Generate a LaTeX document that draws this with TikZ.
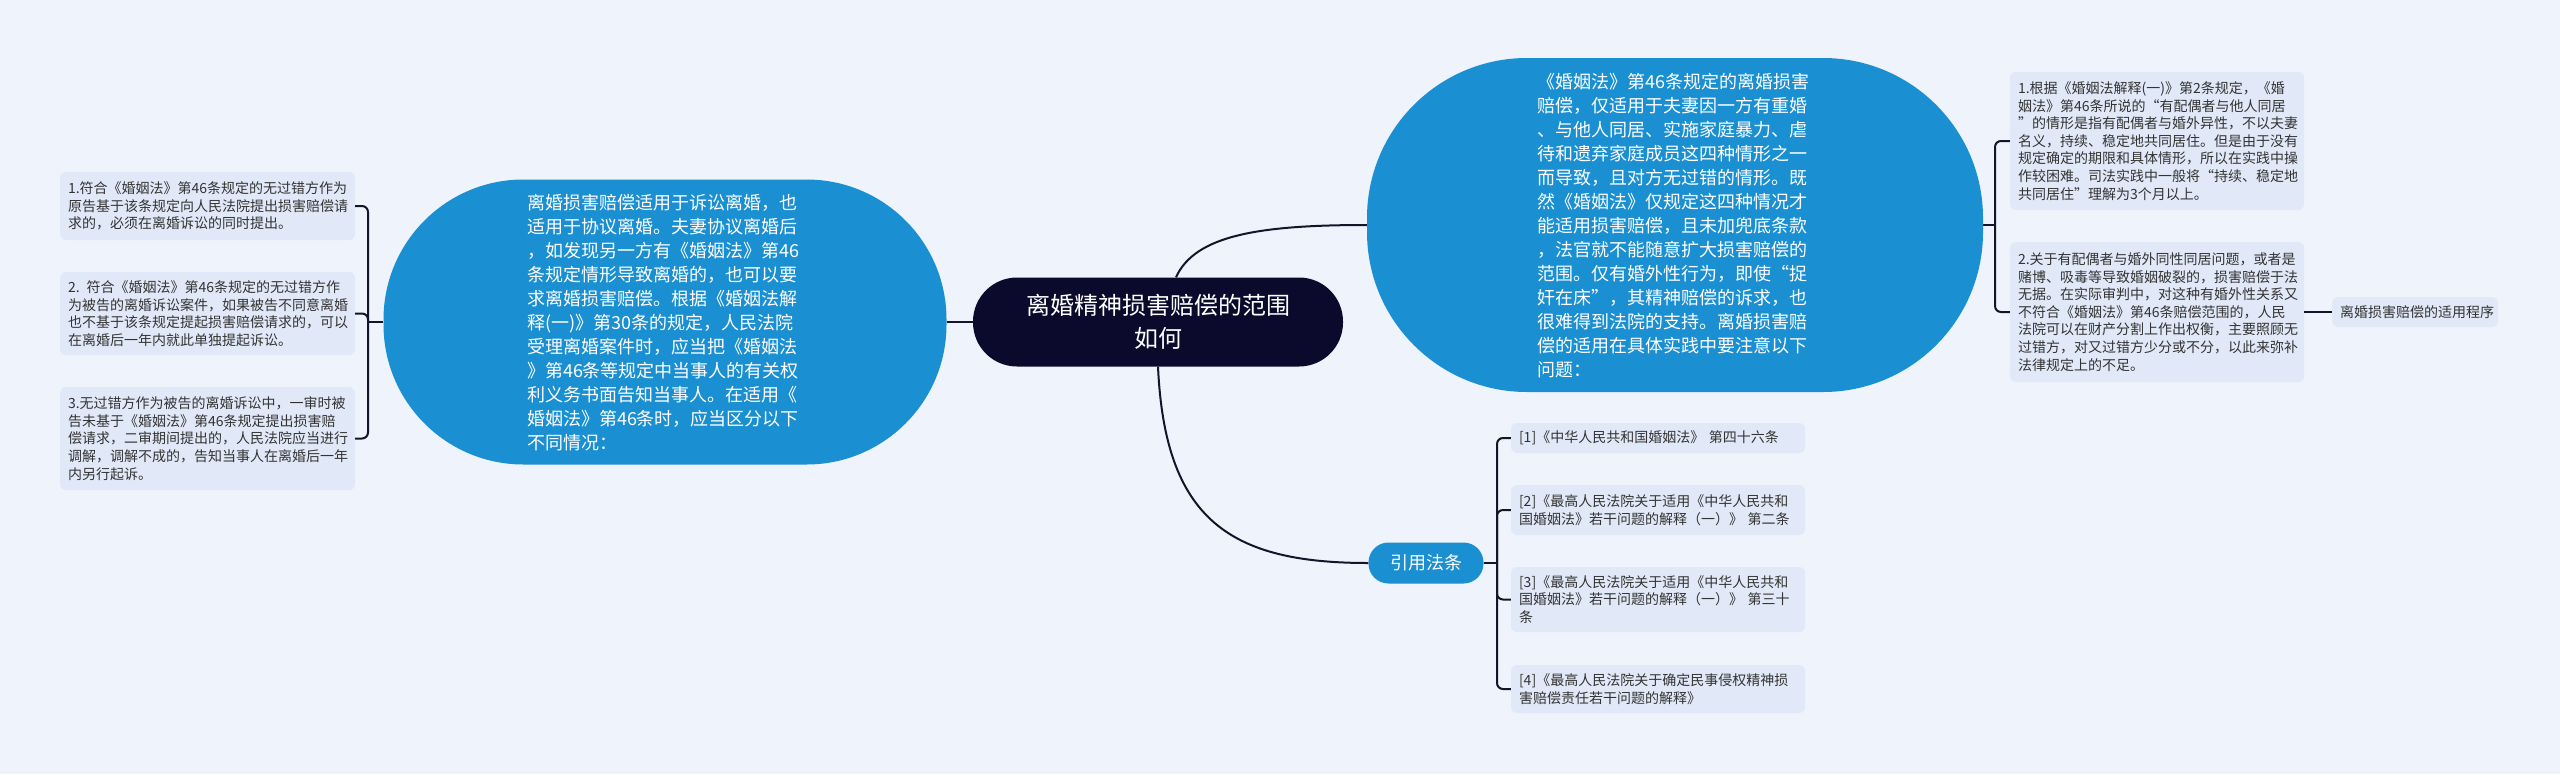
\documentclass[tikz,border=0pt]{standalone}
\usepackage{fontspec}
\setmainfont{Noto Sans CJK SC}
\definecolor{bgc}{HTML}{EEF3FC}
\definecolor{leafc}{HTML}{E1E9F8}
\definecolor{bluec}{HTML}{1A8FD1}
\definecolor{darkc}{HTML}{0B0A2C}
\definecolor{linec}{HTML}{15152A}
\definecolor{textc}{HTML}{333333}
\begin{document}
\begin{tikzpicture}[x=1pt,y=-1pt,
  conn/.style={draw=linec, line width=2pt},
  leaf/.style={fill=leafc, rounded corners=6pt, text=textc, align=left,
    inner xsep=8pt, inner ysep=0pt, font=\fontsize{14}{17.6}\selectfont},
  bigblob/.style={fill=bluec, text=white, align=left, inner sep=0pt,
    font=\fontsize{18}{24}\selectfont},
  rootbox/.style={fill=darkc, text=white, align=center, inner sep=0pt,
    rounded corners=44pt, minimum width=370pt, minimum height=89pt,
    font=\fontsize{24}{33}\selectfont},
  citebox/.style={fill=bluec, text=white, inner sep=0pt, rounded corners=20pt,
    minimum width=115pt, minimum height=41pt, font=\fontsize{18}{22}\selectfont}
]
\useasboundingbox (0,0) rectangle (2560,774);
\fill[bgc] (0,0) rectangle (2560,774);

% root
\node[rootbox] (C) at (1158,322) {离婚精神损害赔偿的范围\\如何};

% left blob
\node[bigblob, rounded corners=140pt, minimum width=563pt, minimum height=285pt] (L) at (665,322) {};
\node[bigblob, anchor=center] (Lt) at (663,323) {离婚损害赔偿适用于诉讼离婚，也\\
适用于协议离婚。夫妻协议离婚后\\
，如发现另一方有《婚姻法》第46\\
条规定情形导致离婚的，也可以要\\
求离婚损害赔偿。根据《婚姻法解\\
释(一)》第30条的规定，人民法院\\
受理离婚案件时，应当把《婚姻法\\
》第46条等规定中当事人的有关权\\
利义务书面告知当事人。在适用《\\
婚姻法》第46条时，应当区分以下\\
不同情况：};

% right blob
\node[bigblob, rounded corners=160pt, minimum width=616pt, minimum height=334pt] (R) at (1675,225) {};
\node[bigblob, anchor=center] (Rt) at (1673,226) {《婚姻法》第46条规定的离婚损害\\
赔偿，仅适用于夫妻因一方有重婚\\
、与他人同居、实施家庭暴力、虐\\
待和遗弃家庭成员这四种情形之一\\
而导致，且对方无过错的情形。既\\
然《婚姻法》仅规定这四种情况才\\
能适用损害赔偿，且未加兜底条款\\
，法官就不能随意扩大损害赔偿的\\
范围。仅有婚外性行为，即使“捉\\
奸在床”，其精神赔偿的诉求，也\\
很难得到法院的支持。离婚损害赔\\
偿的适用在具体实践中要注意以下\\
问题：};

% cite node
\node[citebox] (Y) at (1426,563) {引用法条};

% left leaves
\node[leaf, text width=279pt, minimum height=68pt] (l1) at (207.5,206) {1.符合《婚姻法》第46条规定的无过错方作为\\原告基于该条规定向人民法院提出损害赔偿请\\求的，必须在离婚诉讼的同时提出。};
\node[leaf, text width=279pt, minimum height=83pt] (l2) at (207.5,313.5) {2. 符合《婚姻法》第46条规定的无过错方作\\为被告的离婚诉讼案件，如果被告不同意离婚\\也不基于该条规定提起损害赔偿请求的，可以\\在离婚后一年内就此单独提起诉讼。};
\node[leaf, text width=279pt, minimum height=103pt] (l3) at (207.5,438.5) {3.无过错方作为被告的离婚诉讼中，一审时被\\告未基于《婚姻法》第46条规定提出损害赔\\偿请求，二审期间提出的，人民法院应当进行\\调解，调解不成的，告知当事人在离婚后一年\\内另行起诉。};

% right leaves
\node[leaf, text width=278pt, minimum height=138pt] (r1) at (2157,141) {1.根据《婚姻法解释(一)》第2条规定，《婚\\姻法》第46条所说的“有配偶者与他人同居\\”的情形是指有配偶者与婚外异性，不以夫妻\\名义，持续、稳定地共同居住。但是由于没有\\规定确定的期限和具体情形，所以在实践中操\\作较困难。司法实践中一般将“持续、稳定地\\共同居住”理解为3个月以上。};
\node[leaf, text width=278pt, minimum height=140pt] (r2) at (2157,312) {2.关于有配偶者与婚外同性同居问题，或者是\\赌博、吸毒等导致婚姻破裂的，损害赔偿于法\\无据。在实际审判中，对这种有婚外性关系又\\不符合《婚姻法》第46条赔偿范围的，人民\\法院可以在财产分割上作出权衡，主要照顾无\\过错方，对又过错方少分或不分，以此来弥补\\法律规定上的不足。};
\node[leaf, text width=150pt, minimum height=30pt] (rr) at (2415,312) {离婚损害赔偿的适用程序};

% cite leaves
\node[leaf, text width=278pt, minimum height=30pt] (c1) at (1658,438) {[1]《中华人民共和国婚姻法》 第四十六条};
\node[leaf, text width=278pt, minimum height=50pt] (c2) at (1658,510) {[2]《最高人民法院关于适用《中华人民共和\\国婚姻法》若干问题的解释（一）》 第二条};
\node[leaf, text width=278pt, minimum height=65pt] (c3) at (1658,599.5) {[3]《最高人民法院关于适用《中华人民共和\\国婚姻法》若干问题的解释（一）》 第三十\\条};
\node[leaf, text width=278pt, minimum height=48pt] (c4) at (1658,689) {[4]《最高人民法院关于确定民事侵权精神损\\害赔偿责任若干问题的解释》};

% connectors from root
\draw[conn] (C.west) -- (L.east);
\draw[conn] ([xshift=18pt]C.north) .. controls (1195,235) and (1260,225) .. (R.west);
\draw[conn] (C.south) .. controls (1165,520) and (1230,563) .. (Y.west);

% left bracket
\coordinate (jl) at (368,322);
\draw[conn] (L.west) -- (jl);
\foreach \n in {l1,l2,l3} \draw[conn, rounded corners=6pt] (jl) |- (\n.east);

% right bracket
\coordinate (jr) at (1995,225);
\draw[conn] (R.east) -- (jr);
\foreach \n in {r1,r2} \draw[conn, rounded corners=6pt] (jr) |- (\n.west);
\draw[conn] (r2.east) -- (rr.west);

% cite bracket
\coordinate (jc) at (1497,563);
\draw[conn] (Y.east) -- (jc);
\foreach \n in {c1,c2,c3,c4} \draw[conn, rounded corners=6pt] (jc) |- (\n.west);
\end{tikzpicture}
\end{document}
